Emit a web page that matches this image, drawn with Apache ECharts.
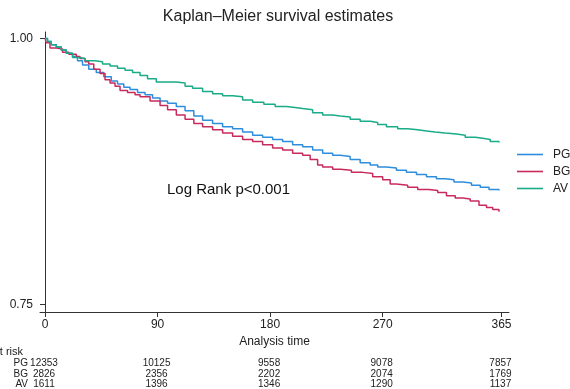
<!DOCTYPE html>
<html><head><meta charset="utf-8">
<script src="https://cdn.jsdelivr.net/npm/echarts@6/dist/echarts.min.js"></script>
<style>html,body{margin:0;padding:0;background:#fff}#c{width:570px;height:389px}</style>
</head><body><div id="c"></div>
<script>
const seriesNames = ['PG', 'BG', 'AV'];
const xTicks = [0, 90, 180, 270, 365];
const yTicks = [0.75, 1.00];
const pgData = [[0,1.000],[2,0.997],[5,0.994],[9,0.992],[13,0.989],[17,0.986],[22,0.983],[26,0.979],[30,0.975],[35,0.971],[41,0.968],[47,0.964],[53,0.960],[58,0.957],[63,0.954],[68,0.952],[74,0.949],[80,0.947],[86,0.944],[92,0.941],[98,0.939],[105,0.936],[112,0.932],[119,0.927],[126,0.923],[134,0.920],[142,0.917],[150,0.915],[158,0.912],[166,0.909],[174,0.907],[182,0.905],[190,0.903],[198,0.900],[206,0.898],[214,0.895],[222,0.892],[230,0.890],[236,0.889],[244,0.886],[252,0.883],[260,0.881],[266,0.879],[273,0.878],[281,0.876],[289,0.874],[297,0.872],[305,0.870],[313,0.868],[320,0.867],[327,0.865],[334,0.864],[341,0.862],[348,0.860],[355,0.858],[363,0.857]];
const bgData = [[0,1.000],[1,0.996],[4,0.991],[9,0.990],[14,0.987],[19,0.985],[25,0.983],[28,0.981],[32,0.978],[35,0.976],[39,0.971],[44,0.967],[48,0.961],[52,0.958],[56,0.955],[60,0.951],[66,0.949],[72,0.947],[76,0.945],[84,0.941],[92,0.937],[98,0.933],[105,0.928],[112,0.924],[119,0.920],[126,0.917],[134,0.914],[142,0.911],[150,0.908],[158,0.905],[166,0.903],[174,0.900],[182,0.897],[190,0.895],[198,0.892],[206,0.890],[212,0.886],[218,0.881],[222,0.879],[230,0.877],[236,0.876],[245,0.874],[254,0.873],[262,0.870],[270,0.867],[276,0.863],[281,0.862],[290,0.860],[298,0.858],[307,0.857],[314,0.855],[321,0.852],[328,0.850],[334,0.849],[340,0.847],[347,0.843],[353,0.841],[358,0.839],[363,0.837]];
const avData = [[0,1.000],[2,0.997],[5,0.994],[9,0.992],[13,0.989],[17,0.986],[22,0.982],[27,0.981],[32,0.979],[40,0.978],[46,0.976],[52,0.974],[58,0.972],[64,0.970],[70,0.968],[76,0.965],[82,0.962],[89,0.959],[95,0.959],[105,0.958],[112,0.955],[118,0.953],[126,0.950],[134,0.948],[142,0.946],[150,0.945],[158,0.942],[166,0.940],[175,0.938],[184,0.936],[193,0.935],[200,0.934],[206,0.933],[214,0.930],[222,0.928],[230,0.927],[236,0.926],[244,0.924],[252,0.922],[260,0.921],[266,0.919],[273,0.917],[282,0.915],[290,0.914],[298,0.913],[305,0.912],[312,0.911],[320,0.910],[329,0.909],[336,0.907],[344,0.906],[350,0.905],[356,0.903],[363,0.902]];
const riskPG = [12353, 10125, 9558, 9078, 7857];
const riskBG = [2826, 2356, 2202, 2074, 1769];
const riskAV = [1611, 1396, 1346, 1290, 1137];

const colors = {PG: '#2e8ddc', BG: '#c92a5c', AV: '#1aab88'};
const FONT = '"Liberation Sans", Arial, sans-serif';
const chart = echarts.init(document.getElementById('c'), null, {renderer: 'canvas'});
const mk = (name, data) => ({
  name, type: 'line', data, step: 'end', symbol: 'none', showSymbol: false,
  lineStyle: {width: 1.5, color: colors[name]}, itemStyle: {color: colors[name]}, silent: true, animation: false
});
chart.setOption({
  animation: false,
  grid: {left: 40, top: 32, right: 61, bottom: 77, containLabel: false},
  legend: {
    orient: 'vertical', left: 517, top: 148.5, padding: 0, icon: 'rect', itemWidth: 26, itemHeight: 1.6, itemGap: 5,
    textStyle: {fontFamily: FONT, fontSize: 12, color: '#222', padding: [0, 0, 0, 5]},
    data: seriesNames.map(n => ({name: n, itemStyle: {color: colors[n]}}))
  },
  xAxis: {
    type: 'value', min: -4, max: 371,
    name: 'Analysis time', nameLocation: 'middle', nameGap: 21,
    nameTextStyle: {fontFamily: FONT, fontSize: 12, color: '#222'},
    axisLine: {show: true, lineStyle: {color: '#333', width: 1}},
    axisTick: {show: true, length: 5, customValues: xTicks, lineStyle: {color: '#333'}},
    axisLabel: {customValues: xTicks, fontFamily: FONT, fontSize: 12, color: '#222', margin: 7},
    splitLine: {show: false}
  },
  yAxis: {
    type: 'value', min: 0.7427, max: 1.006,
    axisLine: {show: true, lineStyle: {color: '#333', width: 1}},
    axisTick: {show: true, length: 5, customValues: yTicks, lineStyle: {color: '#333'}},
    axisLabel: {customValues: yTicks, formatter: v => v.toFixed(2), fontFamily: FONT, fontSize: 12, color: '#222', margin: 7},
    splitLine: {show: false}
  },
  series: [mk('PG', pgData), mk('BG', bgData), mk('AV', avData)]
});

const g = [];
g.push({type: 'text', x: 278, y: 17, style: {text: 'Kaplan\u2013Meier survival estimates', font: '16px ' + FONT, fill: '#222', align: 'center', verticalAlign: 'middle'}});
g.push({type: 'text', x: 167, y: 190, style: {text: 'Log Rank p<0.001', font: '15px ' + FONT, fill: '#111', align: 'left', verticalAlign: 'middle'}});
g.push({type: 'text', x: 23, y: 352, style: {text: 'Number at risk', font: '11px ' + FONT, fill: '#222', align: 'right', verticalAlign: 'middle'}});
const rows = [['PG', riskPG, 363], ['BG', riskBG, 374], ['AV', riskAV, 384.5]];
rows.forEach(([lab, vals, y]) => {
  g.push({type: 'text', x: 28, y, style: {text: lab, font: '10px ' + FONT, fill: '#222', align: 'right', verticalAlign: 'middle'}});
  vals.forEach((v, i) => {
    const px = chart.convertToPixel({xAxisIndex: 0}, xTicks[i]);
    g.push({type: 'text', x: px - 1, y, style: {text: String(v), font: '10px ' + FONT, fill: '#222', align: 'center', verticalAlign: 'middle'}});
  });
});
chart.setOption({graphic: g});
</script>
</body></html>
